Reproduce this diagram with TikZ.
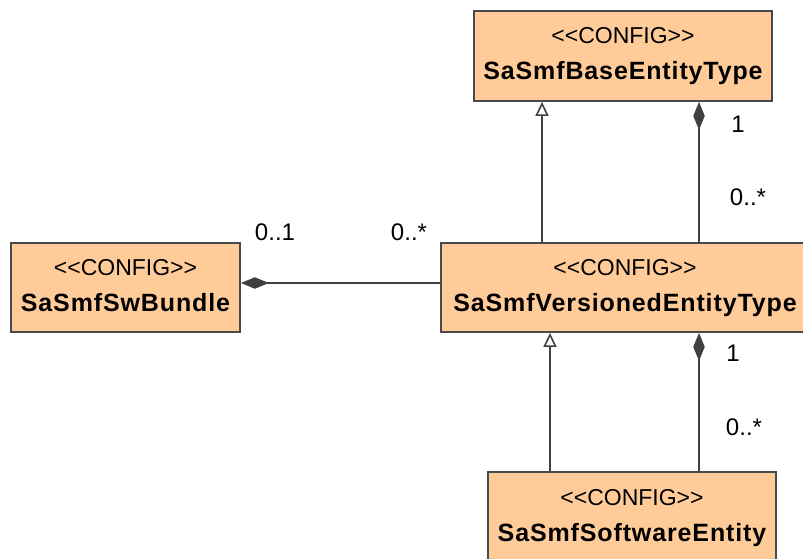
\documentclass[tikz,border=0pt]{standalone}
\usepackage{fontspec}
\setmainfont{Liberation Sans}
\newfontfamily\namefont[LetterSpace=3.5]{Liberation Sans}
\usetikzlibrary{arrows.meta}

\definecolor{classfill}{RGB}{255,204,153}
\definecolor{classline}{RGB}{74,74,74}
\definecolor{linkline}{RGB}{64,64,64}

\tikzset{
  umlclass/.style={draw=classline, line width=1.8pt, fill=classfill,
    inner sep=0pt, align=center,
    font=\fontsize{23}{36}\selectfont},
  link/.style={draw=linkline, line width=1.6pt},
  generalization/.style={link, -{Triangle[open, length=14pt, width=13pt, fill=white]}},
  composition/.style={link, -{Diamond[length=28pt, width=11.5pt, fill=linkline]}},
  mult/.style={font=\fontsize{24}{28}\selectfont, inner sep=0pt}
}
% stereotype with plain angle brackets (no guillemet ligature)
\newcommand{\cfgstereo}{<\kern0pt<CONFIG>\kern0pt>}
% line strut: 19pt above, 7pt below the baseline
\newcommand{\linestrut}{\rule[-7pt]{0pt}{26pt}}
\newcommand{\classname}[1]{{\namefont\bfseries\fontsize{25}{36}\selectfont #1}}

\begin{document}
\begin{tikzpicture}[x=1pt, y=-1pt]
  \useasboundingbox (0,0) rectangle (803,559);
  \clip (0,0) rectangle (803,559);

  % classes
  \node[umlclass, minimum width=298pt, minimum height=90pt] (base) at (623,56)
    {\linestrut\cfgstereo\\\linestrut\classname{SaSmfBaseEntityType}};
  \node[umlclass, minimum width=229pt, minimum height=89pt] (bundle) at (125.5,287.5)
    {\linestrut\cfgstereo\\\linestrut\classname{SaSmfSwBundle}};
  \node[umlclass, minimum width=368pt, minimum height=89pt] (vers) at (625,287.5)
    {\linestrut\cfgstereo\\\linestrut\classname{SaSmfVersionedEntityType}};
  \node[umlclass, minimum width=288pt, minimum height=90pt] (soft) at (632,517)
    {\linestrut\cfgstereo\\\linestrut\classname{SaSmfSoftwareEntity}};

  % connector positions
  \coordinate (g1) at (542,0);
  \coordinate (c1) at (699,0);
  \coordinate (g2) at (550,0);
  \coordinate (hy) at (0,283);

  % inheritance
  \draw[generalization] (vers.north -| g1) -- (base.south -| g1);
  \draw[generalization] (soft.north -| g2) -- (vers.south -| g2);

  % compositions
  \draw[composition] (vers.north -| c1) -- (base.south -| c1);
  \draw[composition] (soft.north -| c1) -- (vers.south -| c1);
  \draw[composition] (vers.west |- hy) -- (bundle.east |- hy);

  % multiplicities
  \node[mult] (m1) at (738,124) {1};
  \node[mult] (m2) at (748,197) {0..*};
  \node[mult] (m3) at (733,353) {1};
  \node[mult] (m4) at (744,427) {0..*};
  \node[mult] (m5) at (275,232) {0..1};
  \node[mult] (m6) at (409,232) {0..*};
\end{tikzpicture}
\end{document}
